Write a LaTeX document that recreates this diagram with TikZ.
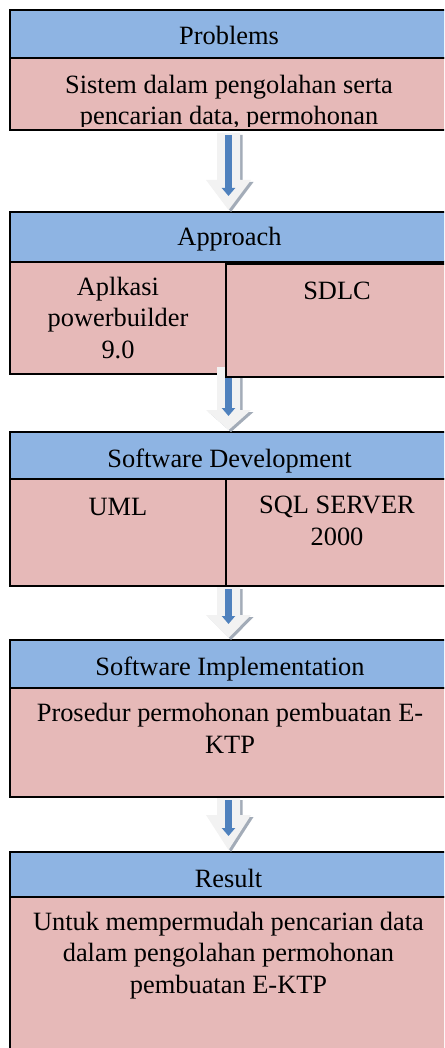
\documentclass[tikz,border=0pt]{standalone}
\usepackage{fontspec}
\setmainfont{Liberation Serif}
\usetikzlibrary{calc,arrows.meta}

\definecolor{hdrblue}{HTML}{8EB4E3}
\definecolor{bodypink}{HTML}{E6B9B8}
\definecolor{arrowfill}{HTML}{F2F2F2}
\definecolor{arrowshade}{HTML}{A3ACB8}
\definecolor{arrowline}{HTML}{4F81BD}

\tikzset{
  box/.style={draw=black, line width=1.3pt, anchor=north west,
              inner sep=0pt, outer sep=0pt},
  hdr/.style={box, fill=hdrblue},
  bdy/.style={box, fill=bodypink},
  % multi-line labels are placed by the baseline of their last line
  lbl/.style={font=\fontsize{26.4}{31.5}\selectfont, align=center,
              anchor=base, inner sep=0pt},
  flowline/.style={draw=arrowline, line width=7pt,
                   -{Triangle[width=13pt,length=8pt]}},
}

% hollow block arrow with a drop shadow and a blue line inside
% #1 start coordinate, #2 target node, #3 head length
\newcommand\arrowpoly[2]{%
  ($(fa-s)+(-11.5+#1,#2)$) -- ($(fa-s)+(11.5+#1,#2)$) --
  ($(fa-t)+(11.5+#1,-\fahead+#2)$) -- ($(fa-t)+(22.5+#1,-\fahead+#2)$) --
  ($(fa-t)+(#1,#2)$) --
  ($(fa-t)+(-22.5+#1,-\fahead+#2)$) -- ($(fa-t)+(-11.5+#1,-\fahead+#2)$) -- cycle}
\newcommand\flowarrow[3]{%
  \def\fahead{#3}%
  \path (#1) coordinate (fa-s) ($(#2.north)+(-0.5,-2)$) coordinate (fa-t);
  \fill[arrowshade] \arrowpoly{2.5}{2};
  \fill[arrowfill] \arrowpoly{0}{0};
  \draw[flowline] ($(fa-s)+(0,2)$) -- ($(fa-t)+(0,-14)$);
}

\begin{document}
\begin{tikzpicture}[x=1pt, y=-1pt]
  \useasboundingbox (0,0) rectangle (444,1048);
  \clip (0,0) rectangle (444,1048);

  % Problems
  \node[hdr, minimum width=438pt, minimum height=48pt] (prob-h) at (10,10) {};
  \node[bdy, minimum width=438pt, minimum height=72pt] (prob-b) at (10,58) {};

  % Approach
  \node[hdr, minimum width=438pt, minimum height=50pt] (appr-h) at (10,212) {};
  \node[bdy, minimum width=216pt, minimum height=112pt] (appr-l) at (10,262) {};

  % Software Development
  \node[hdr, minimum width=438pt, minimum height=47pt] (dev-h) at (10,432) {};
  \node[bdy, minimum width=216pt, minimum height=107pt] (dev-l) at (10,479) {};
  \node[bdy, minimum width=222pt, minimum height=107pt] (dev-r) at (226,479) {};

  % Software Implementation
  \node[hdr, minimum width=438pt, minimum height=48pt] (impl-h) at (10,640) {};
  \node[bdy, minimum width=438pt, minimum height=109pt] (impl-b) at (10,688) {};

  % Result
  \node[hdr, minimum width=438pt, minimum height=45pt] (res-h) at (10,852) {};
  \node[bdy, minimum width=438pt, minimum height=170pt] (res-b) at (10,897) {};

  % arrows between the stages
  \flowarrow{$(prob-b.south)+(-0.5,3)$}{appr-h}{30}
  \flowarrow{$(appr-l.south east)+(2.5,-7)$}{dev-h}{20}
  \flowarrow{$(dev-l.south east)+(2.5,1)$}{impl-h}{23}
  \flowarrow{$(impl-b.south)+(-0.5,1)$}{res-h}{35}

  % right part of Approach, lying over the second arrow
  \node[bdy, minimum width=222pt, minimum height=113pt] (appr-r) at (226,264) {};

  % texts
  \node[lbl] (t-prob) at (229,45) {Problems};
  \begin{scope}
    % the body text runs past the bottom of its box and is cut there
    \clip (prob-b.north west) rectangle ($(prob-b.south east)+(0,-3)$);
    \node[lbl] (t-prob-b) at (229,125) {Sistem dalam pengolahan serta\\pencarian data, permohonan};
  \end{scope}

  \node[lbl] (t-appr) at (229.5,246) {Approach};
  \node[lbl] (t-appr-l) at (118,358) {Aplkasi\\powerbuilder\\9.0};
  \node[lbl] (t-appr-r) at (337,299) {SDLC};

  \node[lbl] (t-dev) at (229.5,467) {Software Development};
  \node[lbl] (t-dev-l) at (118,515) {UML};
  \node[lbl] (t-dev-r) at (337,545) {SQL SERVER\\2000};

  \node[lbl] (t-impl) at (230,675) {Software Implementation};
  \node[lbl] (t-impl-b) at (230,753) {Prosedur permohonan pembuatan E-\\KTP};

  \node[lbl] (t-res) at (228.5,887) {Result};
  \node[lbl] (t-res-b) at (228.5,993) {Untuk mempermudah pencarian data\\dalam pengolahan permohonan\\pembuatan E-KTP};
\end{tikzpicture}
\end{document}
